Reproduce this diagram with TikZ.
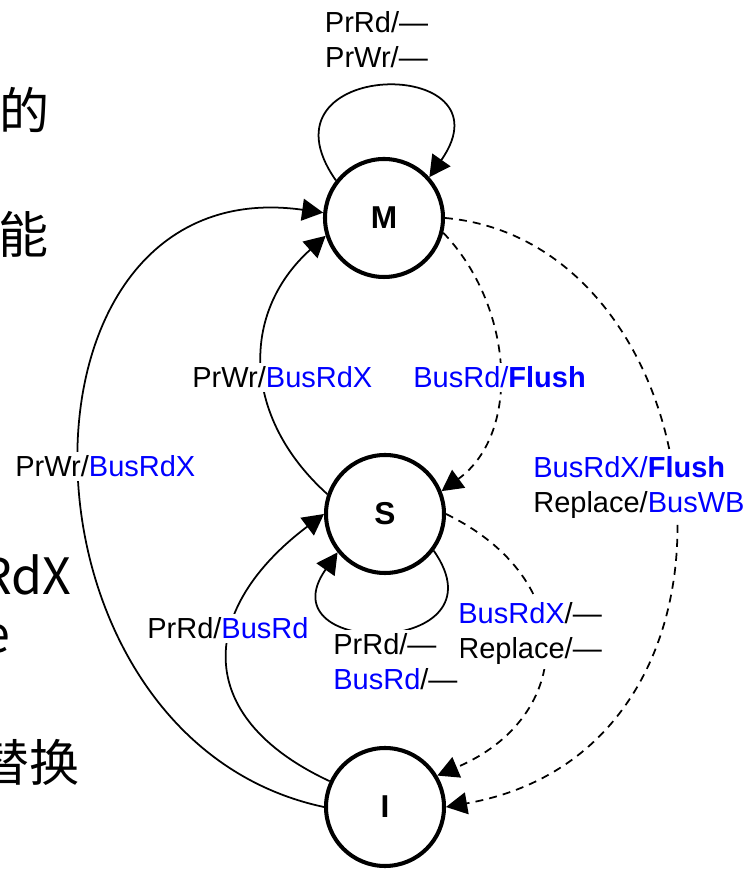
\documentclass[tikz,border=0pt]{standalone}
\usepackage{fontspec}
\setmainfont{Liberation Sans}
\newfontfamily\cjkfont{Noto Sans CJK SC}
\usetikzlibrary{arrows.meta}
\definecolor{busblue}{RGB}{0,0,255}
\newcommand{\bus}[1]{\textcolor{busblue}{#1}}
\tikzset{
    mesi/.style={circle, draw, line width=2.3pt, minimum size=2.36cm, inner sep=0pt,
        font=\fontsize{18}{20}\selectfont\bfseries},
    trans/.style={line width=1pt, -{Triangle[length=12pt,width=12.5pt]}},
    snoop/.style={trans, dash pattern=on 4.5pt off 3.5pt},
    lbl/.style={fill=white, inner sep=2pt, align=left},
    frag/.style={font=\fontsize{28.5}{32}\selectfont\cjkfont, inner sep=0pt}
}
\begin{document}
\begin{tikzpicture}[font=\fontsize{16.5}{20.2}\selectfont]
            \useasboundingbox (0,0) rectangle (14.94,17.38);
            \clip (0,0) rectangle (14.94,17.38);

            % restos del texto de la diapositiva
            \node[frag, anchor=east] (f1) at (1.00,15.18) {的};
            \node[frag, anchor=east] (f2) at (0.98,12.70) {能};
            \node[frag, anchor=base east] (f3) at (1.44,5.48) {RdX};
            \node[frag, anchor=base east] (f4) at (0.22,4.32) {e};
            \node[frag, anchor=east] (f5) at (1.60,2.14) {替换};

            \node[mesi] (M) at (7.68,13.02) {M};
            \node[mesi] (S) at (7.70,7.10) {S};
            \node[mesi] (I) at (7.70,1.24) {I};

            \draw[trans] (M.142) .. controls +(125:3.0) and +(55:3.0) .. (M.42);
            \draw[trans] (S.323) .. controls +(305:2.6) and +(235:2.6) .. (S.219);
            \draw[trans] (S.161) .. controls +(138:2.3) and +(222:2.3) .. (M.197);
            \draw[trans] (I.155) .. controls +(155:3.1) and +(217:3.1) .. (S.180);
            \draw[trans] (I.180) .. controls +(168:6.6) and +(172:6.6) .. (M.175);

            \draw[snoop] (M.346) .. controls +(314:2) and +(36:2) .. (S.22);
            \draw[snoop] (M.0) .. controls +(-5:5.5) and +(10:6.8) .. (I.0);
            \draw[snoop] (S.0) .. controls +(-26:3) and +(23:3) .. (I.31);

            % la base de un nodo de dos lineas es la de la ultima linea
            \node[lbl, anchor=base, align=center] (lm) at (7.53,16.02) {PrRd/—\\PrWr/—};
            \node[lbl, anchor=base west] (lsm) at (3.77,9.62) {PrWr/\bus{BusRdX}};
            \node[lbl, anchor=base west] (lms) at (8.19,9.62) {\bus{BusRd/\textbf{Flush}}};
            \node[lbl, anchor=base west] (lim) at (0.23,7.84) {PrWr/\bus{BusRdX}};
            \node[lbl, anchor=base west] (lmi) at (10.59,7.12) {\bus{BusRdX/\textbf{Flush}}\\Replace/\bus{BusWB}};
            \node[lbl, anchor=base west] (lis) at (2.87,4.60) {PrRd/\bus{BusRd}};
            \node[lbl, anchor=base west] (lsi) at (9.09,4.20) {\bus{BusRdX}/—\\Replace/—};
            \node[lbl, anchor=base west] (ls) at (6.59,3.58) {PrRd/—\\\bus{BusRd}/—};
\end{tikzpicture}
\end{document}
